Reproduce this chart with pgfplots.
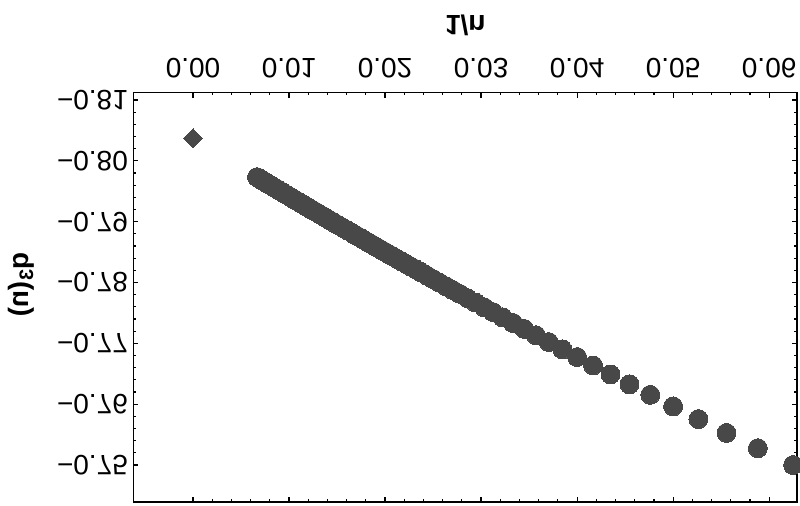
\documentclass[border=0pt]{standalone}
\usepackage{fontspec}
\setmainfont{Liberation Sans}
\usepackage{pgfplots}
\usepackage{pgfplotstable}
\pgfplotsset{compat=1.18}
\definecolor{pt}{RGB}{72,72,72}
\pgfplotstableread{
x y
0.062500 -0.75000
0.058824 -0.75276
0.055556 -0.75527
0.052632 -0.75755
0.050000 -0.75963
0.047619 -0.76153
0.045455 -0.76327
0.043478 -0.76488
0.041667 -0.76636
0.040000 -0.76774
0.038462 -0.76902
0.037037 -0.77021
0.035714 -0.77133
0.034483 -0.77237
0.033333 -0.77334
0.032258 -0.77426
0.031250 -0.77513
0.030303 -0.77594
0.029412 -0.77671
0.028571 -0.77744
0.027778 -0.77813
0.027027 -0.77879
0.026316 -0.77941
0.025641 -0.78000
0.025000 -0.78057
0.024390 -0.78111
0.023810 -0.78162
0.023256 -0.78211
0.022727 -0.78258
0.022222 -0.78303
0.021739 -0.78346
0.021277 -0.78388
0.020833 -0.78427
0.020408 -0.78465
0.020000 -0.78502
0.019608 -0.78537
0.019231 -0.78571
0.018868 -0.78604
0.018519 -0.78636
0.018182 -0.78666
0.017857 -0.78695
0.017544 -0.78724
0.017241 -0.78751
0.016949 -0.78778
0.016667 -0.78804
0.016129 -0.78853
0.015625 -0.78899
0.015152 -0.78942
0.014706 -0.78983
0.014286 -0.79021
0.013889 -0.79058
0.013514 -0.79093
0.013158 -0.79125
0.012821 -0.79157
0.012500 -0.79186
0.012195 -0.79214
0.011905 -0.79241
0.011628 -0.79267
0.011364 -0.79292
0.011111 -0.79315
0.010753 -0.79348
0.010417 -0.79380
0.010101 -0.79409
0.009804 -0.79437
0.009524 -0.79463
0.009259 -0.79488
0.009009 -0.79511
0.008772 -0.79534
0.008547 -0.79555
0.008333 -0.79575
0.008130 -0.79594
0.007937 -0.79612
0.007752 -0.79629
0.007576 -0.79646
0.007407 -0.79662
0.007246 -0.79677
0.007092 -0.79692
0.006944 -0.79706
0.006803 -0.79719
0.006667 -0.79732
}\qdata
\begin{document}
\begin{tikzpicture}
\begin{axis}[
  at={(0,0)}, anchor=south west,
  scale only axis, width=497.6pt, height=307.1pt,
  xmin=-0.0062, xmax=0.0629, ymin=-0.81123, ymax=-0.74391,
  y dir=reverse,
  clip=false,
  scaled x ticks=false, scaled y ticks=false,
  xtick={0,0.01,0.02,0.03,0.04,0.05,0.06},
  xticklabels={0.00,0.01,0.02,0.03,0.04,0.05,0.06},
  ytick={-0.81,-0.80,-0.79,-0.78,-0.77,-0.76,-0.75},
  yticklabels={−0.81,−0.80,−0.79,−0.78,−0.77,−0.76,−0.75},
  minor x tick num=4, minor y tick num=4,
  xticklabel pos=right, yticklabel pos=left,
  xtick pos=both, ytick pos=both,
  tick align=inside,
  major tick length=3.75pt, minor tick length=2pt,
  axis line style={line width=1.3pt},
  every tick/.style={black, line width=0.9pt},
  tick label style={font=\fontsize{21}{25}\selectfont, inner sep=0pt},
  xticklabel style={yscale=-1, anchor=north},
  yticklabel style={yscale=-1, anchor=east},
  xticklabel shift=10.5pt, yticklabel shift=4pt,
  xlabel={1/n}, ylabel={q\textsubscript{3}(n)},
  label style={font=\fontsize{21}{25}\selectfont\bfseries},
  xlabel style={at={(axis description cs:0.5,1.165)}, anchor=center, yscale=-1},
  ylabel style={at={(axis description cs:-0.1686,0.53)}, anchor=center, xscale=-1},
]
\addplot[only marks, mark=*, mark size=7.1pt, mark options={fill=pt, draw=pt, line width=0pt}] table[x=x,y=y] {\qdata};
\addplot[only marks, mark=square*, mark size=5pt, mark options={rotate=45, fill=pt, draw=pt, line width=0pt}] coordinates {(0,-0.8037)};
\end{axis}
\pgfresetboundingbox
\path[use as bounding box] (-100.1pt,-2.25pt) rectangle (499.85pt,376.5pt);
\end{tikzpicture}
\end{document}
